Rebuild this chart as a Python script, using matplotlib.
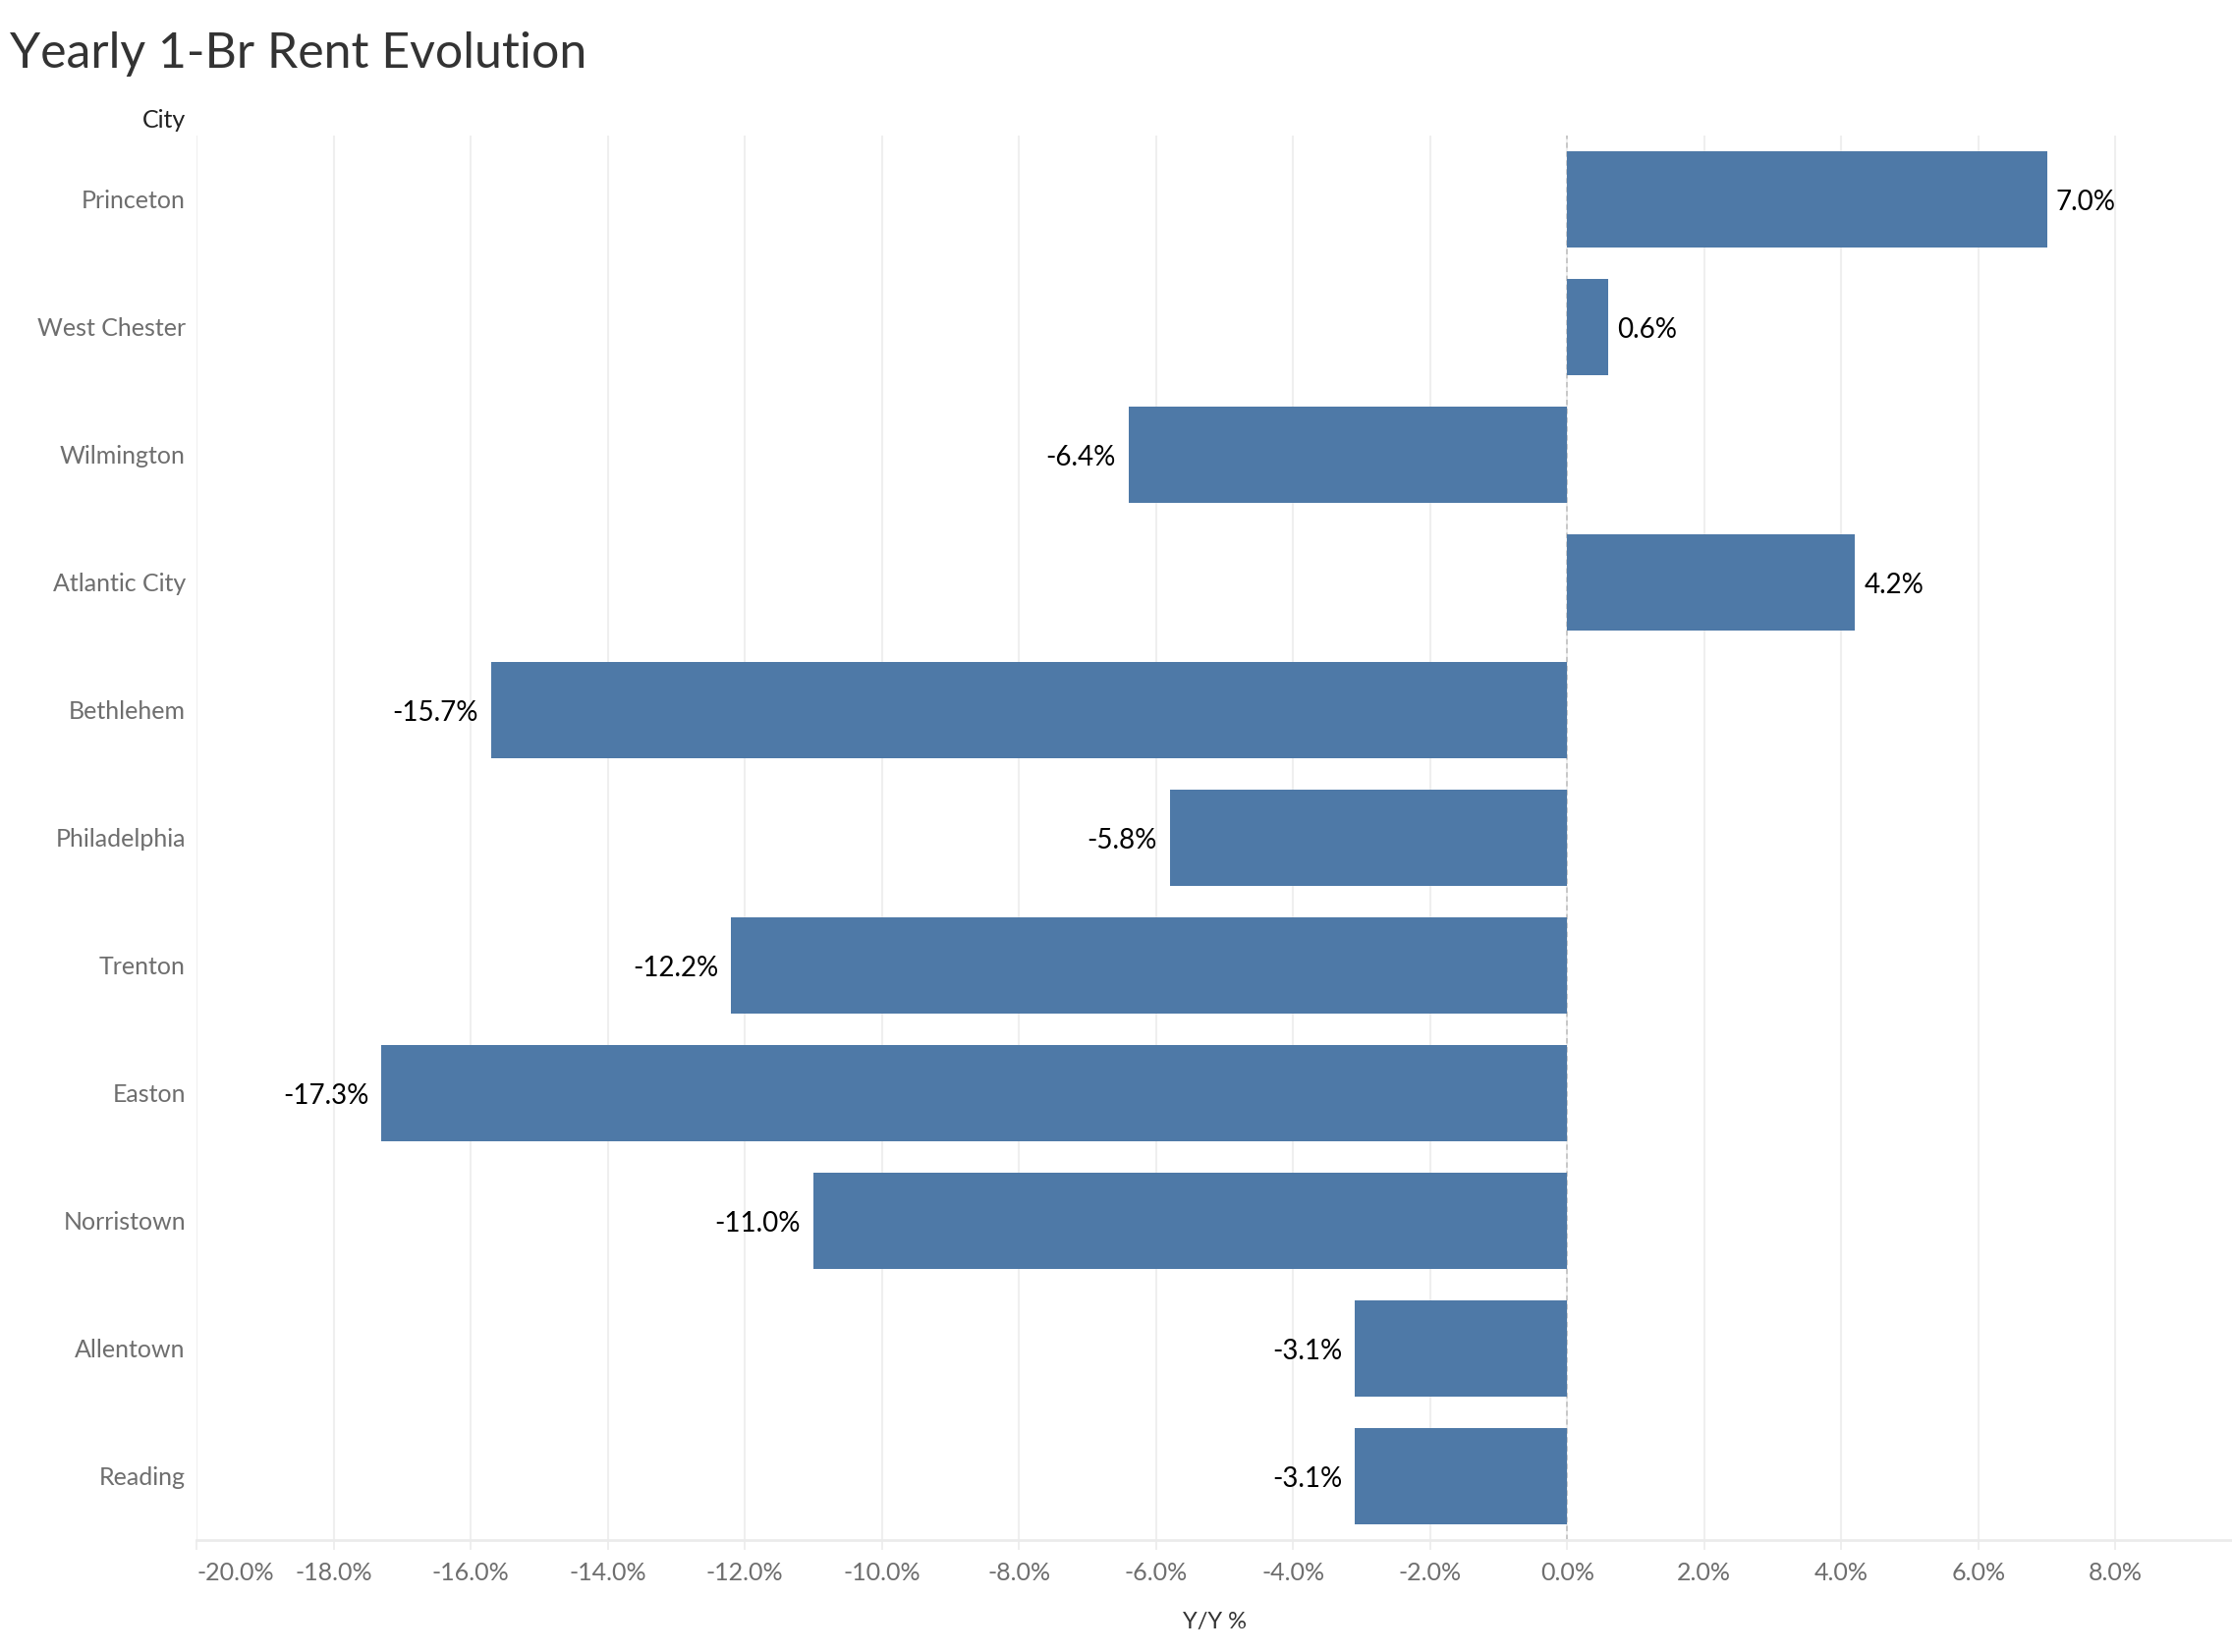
import matplotlib
matplotlib.use("Agg")
import matplotlib.pyplot as plt
import numpy as np

# data
cities = ["Princeton", "West Chester", "Wilmington", "Atlantic City", "Bethlehem",
          "Philadelphia", "Trenton", "Easton", "Norristown", "Allentown", "Reading"]
yoy = [7.0, 0.6, -6.4, 4.2, -15.7, -5.8, -12.2, -17.3, -11.0, -3.1, -3.1]
xticks = [-20, -18, -16, -14, -12, -10, -8, -6, -4, -2, 0, 2, 4, 6, 8]

plt.rcParams['font.family'] = ['Lato', 'DejaVu Sans']

W, H = 2272, 1682
fig = plt.figure(figsize=(W / 100, H / 100), dpi=100)
ax = fig.add_axes([200 / W, 1 - 1568 / H, 2072 / W, 1430 / H])

bar_color = "#4e79a7"
pos = np.arange(len(cities))
ax.barh(pos, yoy, height=0.75, color=bar_color, zorder=3)

# zero reference line
ax.axvline(0, color="#c4c4c4", linestyle=(0, (3, 2)), linewidth=1.3, zorder=2)

# value labels
for p, v in zip(pos, yoy):
    txt = "%.1f%%" % v
    if v >= 0:
        ax.annotate(txt, (v, p), xytext=(9, -3), textcoords="offset pixels",
                    ha="left", va="center", fontsize=20, color="black", zorder=4)
    else:
        ax.annotate(txt, (v, p), xytext=(-13, -3), textcoords="offset pixels",
                    ha="right", va="center", fontsize=20, color="black", zorder=4)

ax.set_xlim(-20, 9.7)
ax.set_ylim(len(cities) - 0.5, -0.5)
ax.set_xticks(xticks)
ax.set_xticklabels(["%.1f%%" % t for t in xticks])
ax.get_xticklabels()[0].set_horizontalalignment("left")
ax.set_yticks(pos)
ax.set_yticklabels(cities, va="center_baseline")
for lbl in ax.get_yticklabels():
    lbl.set_y(lbl.get_position()[1])

ax.grid(axis="x", color="#efefef", linewidth=1.5, zorder=0)
ax.grid(axis="y", visible=False)
for s in ["top", "right", "left"]:
    ax.spines[s].set_visible(False)
ax.spines["bottom"].set_color("#ebebeb")
ax.spines["bottom"].set_linewidth(2)

ax.tick_params(axis="x", length=7, width=1.2, color="#ebebeb", pad=9,
               labelsize=18, labelcolor="#6e6e6e")
ax.tick_params(axis="y", length=0, pad=8, labelsize=18, labelcolor="#6e6e6e")

ax.set_xlabel("Y/Y %", fontsize=17, color="#333333", labelpad=20)

fig.text(10 / W, 1 - 55 / H, "Yearly 1-Br Rent Evolution", fontsize=36,
         color="#333333", ha="left", va="center")
fig.text(189 / W, 1 - 122 / H, "City", fontsize=18, color="#222222",
         ha="right", va="center")

fig.savefig("out.png", dpi=100)
